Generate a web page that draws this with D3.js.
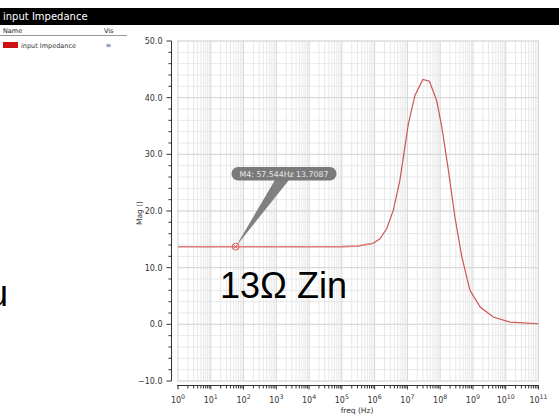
<!DOCTYPE html>
<html>
<head>
<meta charset="utf-8">
<script src="https://cdn.jsdelivr.net/npm/d3@7/dist/d3.min.js"></script>
<style>
  html, body { margin: 0; padding: 0; background: #fff; }
  svg { display: block; }
</style>
</head>
<body>
<svg id="chart" width="559" height="419"></svg>
<script>
// Input impedance magnitude versus frequency (log sweep)
const freqHz = [1, 10, 100, 1e3, 1e4, 1e5, 3e5, 9.1e5, 1.45e6, 2.35e6, 3.7e6, 5.9e6, 1.07e7, 1.7e7, 2.95e7, 4.7e7, 7.8e7, 1.12e8, 1.78e8, 2.82e8, 4.57e8, 8.1e8, 1.66e9, 4.17e9, 1.35e10, 1e11];
const magZin = [13.7, 13.7, 13.7, 13.7, 13.7, 13.72, 13.8, 14.3, 15.1, 16.9, 20.1, 25.4, 35.4, 40.4, 43.2, 42.9, 39.5, 34.8, 27.2, 18.9, 11.9, 6.0, 3.05, 1.3, 0.4, 0.1];

const yTicks = [-10, 0, 10, 20, 30, 40, 50];
const xDecades = d3.range(0, 12);

const markerFreq = 57.544;
const markerMag = 13.7087;
const markerLabel = "M4: 57.544Hz 13.7087";

const svg = d3.select("#chart");

// Window title bar and legend panel
svg.append("rect").attr("x", 0).attr("y", 8).attr("width", 559).attr("height", 17).attr("fill", "#000");
svg.append("text").attr("x", 3).attr("y", 20).attr("fill", "#fff")
  .attr("font-family", "DejaVu Sans").attr("font-size", 10).text("input Impedance");
svg.append("text").attr("x", 3).attr("y", 33).attr("fill", "#222")
  .attr("font-family", "DejaVu Sans").attr("font-size", 6.5).text("Name");
svg.append("text").attr("x", 104).attr("y", 33).attr("fill", "#222")
  .attr("font-family", "DejaVu Sans").attr("font-size", 6.5).text("Vis");
svg.append("line").attr("x1", 0).attr("x2", 127).attr("y1", 35.5).attr("y2", 35.5)
  .attr("stroke", "#999").attr("stroke-width", 1);
svg.append("rect").attr("x", 3).attr("y", 42).attr("width", 15).attr("height", 6).attr("fill", "#d01010");
svg.append("text").attr("x", 21).attr("y", 48).attr("fill", "#333")
  .attr("font-family", "DejaVu Sans").attr("font-size", 6.5).text("input Impedance");
svg.append("ellipse").attr("cx", 108.5).attr("cy", 45.5).attr("rx", 2.5).attr("ry", 1.8).attr("fill", "#9aa6c8");

// Plot geometry
const plotL = 177, plotR = 539, plotT = 41, plotB = 381;
const x = d3.scaleLog().domain([1, 1e11]).range([178, 538.5]);
const y = d3.scaleLinear().domain([-10, 50]).range([plotB, plotT]);

const grid = svg.append("g");
// minor vertical grid lines (2..9 within each decade)
const minorX = [];
xDecades.slice(0, 11).forEach(e => { for (let k = 2; k <= 9; k++) minorX.push(k * Math.pow(10, e)); });
grid.selectAll(".vx").data(minorX).join("line")
  .attr("x1", d => x(d)).attr("x2", d => x(d)).attr("y1", plotT).attr("y2", plotB)
  .attr("stroke", "#e8e8e8").attr("stroke-width", 1);
grid.selectAll(".hy").data(d3.range(-10, 50.1, 2)).join("line")
  .attr("x1", plotL).attr("x2", plotR).attr("y1", d => y(d)).attr("y2", d => y(d))
  .attr("stroke", "#e8e8e8").attr("stroke-width", 1);
grid.selectAll(".vX").data(xDecades.map(e => Math.pow(10, e))).join("line")
  .attr("x1", d => x(d)).attr("x2", d => x(d)).attr("y1", plotT).attr("y2", plotB)
  .attr("stroke", "#d6d6d6").attr("stroke-width", 1);
grid.selectAll(".hY").data(yTicks).join("line")
  .attr("x1", plotL).attr("x2", plotR).attr("y1", d => y(d)).attr("y2", d => y(d))
  .attr("stroke", "#d6d6d6").attr("stroke-width", 1);

// Y axis
const yAxisG = svg.append("g").attr("transform", "translate(171.5,0)");
yAxisG.append("line").attr("x1", 0).attr("x2", 0).attr("y1", plotT).attr("y2", plotB).attr("stroke", "#333");
yAxisG.selectAll(".ymt").data(d3.range(-10, 50.1, 2)).join("line")
  .attr("x1", d => (Math.round(d) % 10 === 0 ? -5 : -3)).attr("x2", 0)
  .attr("y1", d => y(d)).attr("y2", d => y(d)).attr("stroke", "#333");
yAxisG.selectAll(".ylab").data(yTicks).join("text")
  .attr("x", -9).attr("y", d => y(d) + 3).attr("text-anchor", "end")
  .attr("font-family", "DejaVu Sans").attr("font-size", 8).attr("fill", "#333")
  .text(d => d3.format(".1f")(d));
svg.append("text").attr("transform", "translate(142,213) rotate(-90)")
  .attr("text-anchor", "middle").attr("font-family", "DejaVu Sans").attr("font-size", 7.5)
  .attr("fill", "#333").text("Mag ()");

// X axis
const xAxisG = svg.append("g").attr("transform", "translate(0,385.5)");
xAxisG.append("line").attr("x1", plotL).attr("x2", plotR).attr("stroke", "#333");
xAxisG.selectAll(".xmt").data(minorX).join("line")
  .attr("x1", d => x(d)).attr("x2", d => x(d)).attr("y1", 0).attr("y2", 3).attr("stroke", "#333");
xAxisG.selectAll(".xMt").data(xDecades.map(e => Math.pow(10, e))).join("line")
  .attr("x1", d => x(d)).attr("x2", d => x(d)).attr("y1", 0).attr("y2", 4).attr("stroke", "#333");
const xl = xAxisG.selectAll(".xlab").data(xDecades).join("text")
  .attr("x", e => x(Math.pow(10, e))).attr("y", 17).attr("text-anchor", "middle")
  .attr("font-family", "DejaVu Sans").attr("font-size", 8).attr("fill", "#333");
xl.append("tspan").text("10");
xl.append("tspan").attr("dy", -4).attr("font-size", 6.3).text(e => e);
svg.append("text").attr("x", 357).attr("y", 413).attr("text-anchor", "middle")
  .attr("font-family", "DejaVu Sans").attr("font-size", 7.5).attr("fill", "#333").text("freq (Hz)");

// Impedance curve
const line = d3.line().x((d, i) => x(freqHz[i])).y(d => y(d));
svg.append("path").datum(magZin).attr("d", line)
  .attr("fill", "none").attr("stroke", "#cc5555").attr("stroke-width", 1.2);
// highlighted low-frequency plateau, traced over the same samples
const plateau = magZin.slice(0, 8);
svg.append("path").datum(plateau).attr("d", line)
  .attr("fill", "none").attr("stroke", "#e48a8a").attr("stroke-width", 1.6).attr("opacity", 0.8);

// Marker M4 with callout
const mx = x(markerFreq), my = y(markerMag);
svg.append("path")
  .attr("d", `M${mx},${my} L275,180 L289,180 Z`)
  .attr("fill", "#808080");
svg.append("rect").attr("x", 231.5).attr("y", 167).attr("width", 105).attr("height", 13.5)
  .attr("rx", 6.5).attr("fill", "#7a7a7a");
svg.append("text").attr("x", 284).attr("y", 176.8).attr("text-anchor", "middle")
  .attr("font-family", "DejaVu Sans").attr("font-size", 7.8).attr("fill", "#e8e8e8").text(markerLabel);
svg.append("circle").attr("cx", mx).attr("cy", my).attr("r", 3.5)
  .attr("fill", "none").attr("stroke", "#e06060").attr("stroke-width", 1);
svg.append("path").attr("d", `M${mx - 2},${my - 2}L${mx + 2},${my + 2}M${mx + 2},${my - 2}L${mx - 2},${my + 2}`)
  .attr("stroke", "#e06060").attr("stroke-width", 0.8);

// Annotation text
svg.append("text").attr("x", 220).attr("y", 298).attr("font-family", "Liberation Sans")
  .attr("font-size", 36).attr("fill", "#000").text("13Ω Zin");
svg.append("text").attr("x", 8).attr("y", 306).attr("text-anchor", "end").attr("font-family", "Liberation Sans")
  .attr("font-size", 36).attr("fill", "#000").text("u");
</script>
</body>
</html>
